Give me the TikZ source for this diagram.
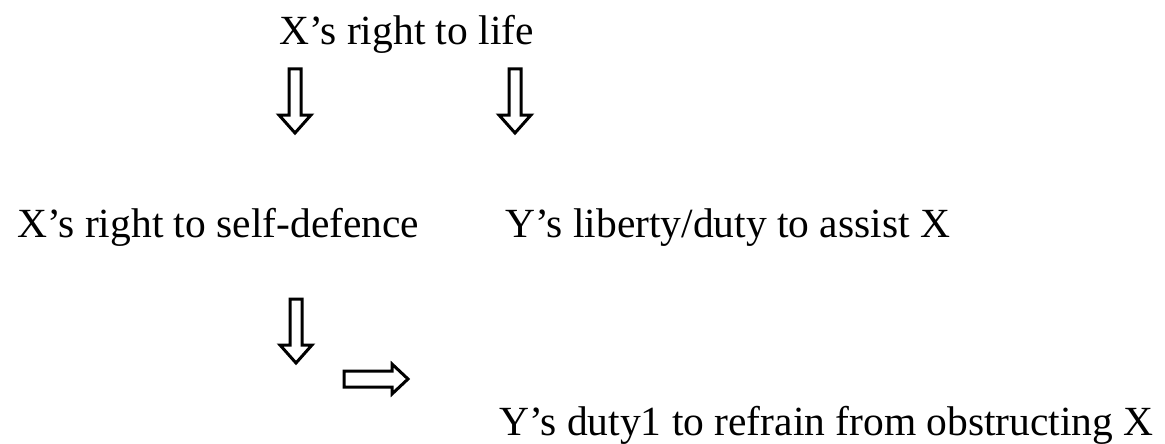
\documentclass[tikz,border=0pt]{standalone}
\usepackage{fontspec}
\setmainfont{Liberation Serif}
\tikzset{
  lbl/.style={inner sep=0pt, font=\fontsize{41.5}{50}\selectfont},
  blockarrow/.style={draw=black, line width=3pt, line join=miter, fill=white},
  downarr/.pic={\draw[blockarrow] (-6,0) -- (-6,46) -- (-16,46) -- (0,64) -- (16,46) -- (6,46) -- (6,0) -- cycle;},
  rightarr/.pic={\draw[blockarrow] (0,-8) -- (48,-8) -- (48,-15) -- (64,0) -- (48,15) -- (48,8) -- (0,8) -- cycle;}
}
\begin{document}
\begin{tikzpicture}[x=1pt, y=-1pt]
\useasboundingbox (0,0) rectangle (1165,444);
\node[lbl, anchor=base west] (life) at (279,45) {X's right to life};
\node[lbl, anchor=base west] (selfdef) at (17,237) {X's right to self-defence};
\node[lbl, anchor=base west] (assist) at (505,237) {Y's liberty/duty to assist X};
\node[lbl, anchor=base east] (refrain) at (1154,435) {Y's duty1 to refrain from obstructing X};
\pic (arrlife) at (295,69) {downarr};
\pic (arrassist) at (515,69) {downarr};
\pic (arrself) at (296,299) {downarr};
\pic (arrright) at (344,379) {rightarr};
\end{tikzpicture}
\end{document}
